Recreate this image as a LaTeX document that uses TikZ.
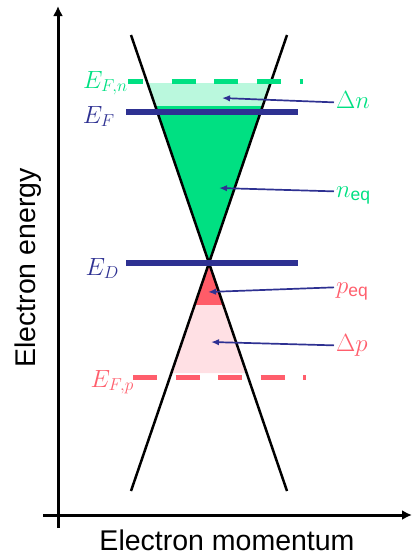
\documentclass[tikz,border=0pt]{standalone}
\usepackage{amsmath}
\usepackage[no-math]{fontspec}
\setmainfont{Liberation Sans}
\usetikzlibrary{arrows.meta}

\definecolor{egreen}{RGB}{0,224,130}
\definecolor{lgreen}{RGB}{186,248,221}
\definecolor{navy}{RGB}{46,49,146}
\definecolor{ered}{RGB}{255,94,108}
\definecolor{dred}{RGB}{255,92,104}
\definecolor{lred}{RGB}{255,224,228}

\newcommand{\lblsize}{\fontsize{25}{29}\selectfont}
\newcommand{\axsize}{\fontsize{28.5}{34}\selectfont}

\tikzset{
    level/.style={line width=6pt, navy},
    dlevel/.style={line width=5pt},
    lbl/.style={inner sep=2pt, font=\lblsize},
    pointer/.style={navy, line width=1.7pt, -{Latex[length=8pt,width=6.5pt]}}
}

\begin{document}
\begin{tikzpicture}[x=1pt, y=-1pt]
    \useasboundingbox (0,0) rectangle (412,555);

    % Carrier fillings
    \fill[lgreen] (147.4,83) -- (270.6,83) -- (262.7,106) -- (155.3,106) -- cycle;
    \fill[egreen] (155.3,106) -- (262.7,106) -- (209,263) -- cycle;
    \fill[dred] (209,263) -- (223.4,305) -- (194.6,305) -- cycle;
    \fill[lred] (194.6,305) -- (223.4,305) -- (246.6,373) -- (171.4,373) -- cycle;

    % Dirac cone
    \draw[line width=2.5pt] (131,35) -- (287,491);
    \draw[line width=2.5pt] (287,35) -- (131,491);

    % Energy levels
    \draw[dlevel, egreen, dash pattern=on 15pt off 28.7pt on 24pt off 18.6pt on 24pt off 18.6pt on 24pt off 18.6pt on 24pt off 100pt] (128,81) -- (303,81);
    \draw[level] (126,112) -- (298,112);
    \draw[level] (126,263) -- (298,263);
    \draw[dlevel, ered, dash pattern=on 24pt off 18.5pt] (133,377) -- (306,377);

    % Level labels
    \node[lbl, anchor=base east, egreen] (efn) at (130,88) {$E_{F,n}$};
    \node[lbl, anchor=base east, navy] (ef) at (117,123) {$E_F$};
    \node[lbl, anchor=base east, navy] (ed) at (121,275) {$E_D$};
    \node[lbl, anchor=base east, ered] (efp) at (136,387) {$E_{F,p}$};

    % Carrier labels
    \node[lbl, anchor=base west, egreen] (dn) at (334,108) {$\Delta n$};
    \node[lbl, anchor=base west, egreen] (neq) at (334,197) {$n_{\text{eq}}$};
    \node[lbl, anchor=base west, ered] (peq) at (334,293) {$p_{\text{eq}}$};
    \node[lbl, anchor=base west, ered] (dp) at (334,351) {$\Delta p$};

    \coordinate (dnend) at (222,98);
    \coordinate (neqend) at (219,188);
    \coordinate (peqend) at (208,292);
    \coordinate (dpend) at (211,342);

    % Pointers
    \draw[pointer] ([yshift=3pt]dn.mid west) -- (dnend);
    \draw[pointer] ([yshift=3pt]neq.mid west) -- (neqend);
    \draw[pointer] ([yshift=3pt]peq.mid west) -- (peqend);
    \draw[pointer] ([yshift=3pt]dp.mid west) -- (dpend);

    % Axes
    \draw[line width=3pt, -{Latex[length=10pt,width=10pt]}] (58,528) -- (58,6);
    \draw[line width=3pt, -{Latex[length=10pt,width=10pt]}] (43,515) -- (412,515);
    \node[anchor=base, font=\axsize] (xlab) at (227,550) {Electron momentum};
    \node[anchor=base, rotate=90, font=\axsize] (ylab) at (35,268) {Electron energy};
\end{tikzpicture}
\end{document}
